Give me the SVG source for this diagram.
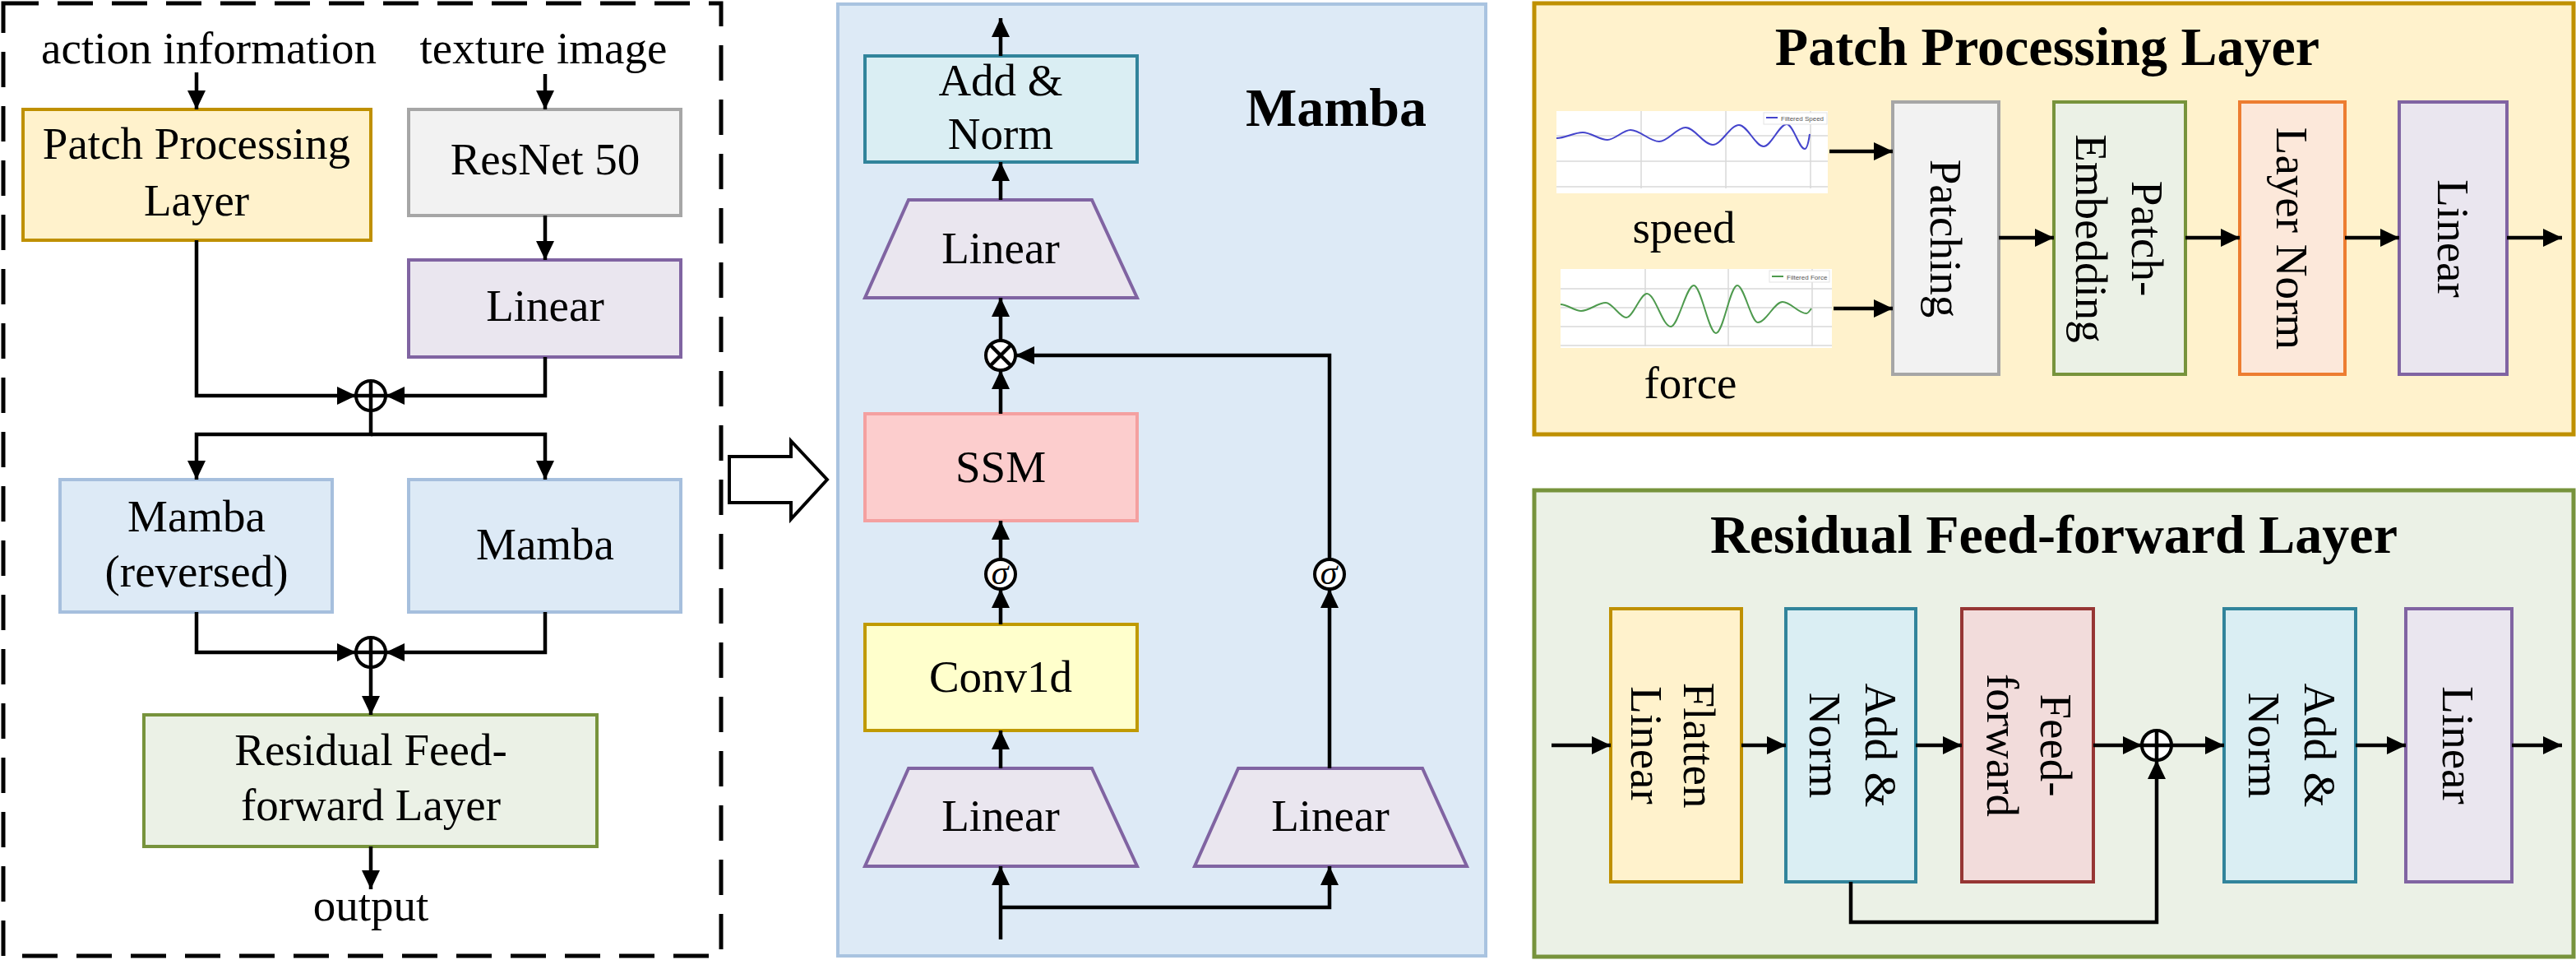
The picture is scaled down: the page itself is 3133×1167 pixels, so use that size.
<svg xmlns="http://www.w3.org/2000/svg" width="3133" height="1167" viewBox="0 0 3133 1167">
<defs>
<marker id="ah" markerUnits="userSpaceOnUse" markerWidth="24" markerHeight="22" refX="23" refY="11" orient="auto">
<path d="M0,0 L23,11 L0,22 z" fill="#000"/>
</marker>
<style>
text{font-family:"Liberation Serif","Times New Roman",serif;fill:#000}
.t{font-size:55px;text-anchor:middle}
.tb{font-size:66px;font-weight:bold;text-anchor:middle}
.sig{font-size:42px;font-style:italic;text-anchor:middle}
.lg{font-family:"Liberation Sans",Arial,sans-serif;font-size:8px;fill:#555}
.c{fill:none;stroke:#000;stroke-width:4.5}
.a{fill:none;stroke:#000;stroke-width:4.5;marker-end:url(#ah)}
.op{fill:#fff;stroke:#000;stroke-width:4}
.yel{fill:#FFF2CC;stroke:#BF9000;stroke-width:4}
.gry{fill:#F2F2F2;stroke:#A6A6A6;stroke-width:4}
.pur{fill:#EAE6EF;stroke:#8064A2;stroke-width:4}
.blu{fill:#DDEAF6;stroke:#A6BFDD;stroke-width:4}
.grn{fill:#EBF1E6;stroke:#77933C;stroke-width:4}
.cyn{fill:#DAEEF3;stroke:#31849B;stroke-width:4}
.ssm{fill:#FCCDCD;stroke:#F4A0A0;stroke-width:4}
.cnv{fill:#FFFFCC;stroke:#C09A00;stroke-width:4}
.org{fill:#FCE8DA;stroke:#ED7D31;stroke-width:4}
.red{fill:#F2DCDB;stroke:#963634;stroke-width:4}
.grid{stroke:#D9D9D9;stroke-width:1.5}
</style>
</defs>
<rect width="3133" height="1167" fill="#fff"/>

<!-- panels -->
<rect id="left-frame" x="4" y="4" width="873" height="1158" fill="none" stroke="#000" stroke-width="5" stroke-dasharray="43 23"/>
<rect id="mamba-panel" x="1019" y="5" width="788" height="1157" fill="#DDEAF6" stroke="#A9C3E0" stroke-width="4"/>
<rect id="ppl-panel" x="1866" y="4" width="1264" height="524" fill="#FFF2CC" stroke="#BF9000" stroke-width="5"/>
<rect id="rff-panel" x="1866" y="596" width="1264" height="567" fill="#EBF1E6" stroke="#77933C" stroke-width="5"/>

<!-- left panel nodes -->
<g id="in-action"><text class="t" x="254" y="77">action information</text></g>
<g id="in-texture"><text class="t" x="661" y="77">texture image</text></g>
<g id="patch-proc"><rect class="yel" x="28" y="133" width="423" height="159"/><text class="t" x="239" y="193">Patch Processing</text><text class="t" x="239" y="262">Layer</text></g>
<g id="resnet"><rect class="gry" x="497" y="133" width="331" height="129"/><text class="t" x="663" y="212">ResNet 50</text></g>
<g id="linear-l"><rect class="pur" x="497" y="316" width="331" height="118"/><text class="t" x="663" y="390">Linear</text></g>
<g id="plus1"><circle class="op" cx="451" cy="481" r="18"/><path class="c" d="M451,463 V499 M433,481 H469" stroke-width="3"/></g>
<g id="mamba-rev"><rect class="blu" x="73" y="583" width="331" height="161"/><text class="t" x="239" y="646">Mamba</text><text class="t" x="239" y="713">(reversed)</text></g>
<g id="mamba-fwd"><rect class="blu" x="497" y="583" width="331" height="161"/><text class="t" x="663" y="680">Mamba</text></g>
<g id="plus2"><circle class="op" cx="451" cy="793" r="18"/><path class="c" d="M451,775 V811 M433,793 H469" stroke-width="3"/></g>
<g id="rff-l"><rect class="grn" x="175" y="869" width="551" height="160"/><text class="t" x="451" y="930">Residual Feed-</text><text class="t" x="451" y="997">forward Layer</text></g>
<g id="out"><text class="t" x="451" y="1119">output</text></g>

<g id="big-arrow"><polygon points="887,555 962,555 962,536 1006,583 962,631 962,611 887,611" fill="#fff" stroke="#000" stroke-width="4"/></g>

<!-- mamba panel nodes -->
<g id="mamba-title"><text class="tb" x="1625" y="153">Mamba</text></g>
<g id="addnorm-m"><rect class="cyn" x="1052" y="68" width="331" height="129"/><text class="t" x="1217" y="116">Add &amp;</text><text class="t" x="1217" y="181">Norm</text></g>
<g id="linear-top"><polygon class="pur" points="1105,243 1328,243 1383,362 1052,362"/><text class="t" x="1217" y="320">Linear</text></g>
<g id="times"><circle class="op" cx="1217" cy="432" r="18"/><path class="c" d="M1204,419 L1230,445 M1230,419 L1204,445" stroke-width="3"/></g>
<g id="ssm"><rect class="ssm" x="1052" y="503" width="331" height="130"/><text class="t" x="1217" y="586">SSM</text></g>
<g id="sig1"><circle class="op" cx="1217" cy="698" r="18"/><text class="sig" x="1216" y="710">σ</text></g>
<g id="conv"><rect class="cnv" x="1052" y="759" width="331" height="129"/><text class="t" x="1217" y="841">Conv1d</text></g>
<g id="linear-bl"><polygon class="pur" points="1105,934 1328,934 1383,1053 1052,1053"/><text class="t" x="1217" y="1010">Linear</text></g>
<g id="linear-br"><polygon class="pur" points="1506,934 1730,934 1784,1053 1453,1053"/><text class="t" x="1618" y="1010">Linear</text></g>
<g id="sig2"><circle class="op" cx="1617" cy="698" r="18"/><text class="sig" x="1616" y="710">σ</text></g>

<!-- patch processing panel -->
<g id="ppl-title"><text class="tb" x="2490" y="79">Patch Processing Layer</text></g>
<g id="speed-chart">
<rect x="1893" y="135" width="330" height="100" fill="#fff"/>
<path class="grid" d="M1996,135 V229 M2099,135 V229 M2202,135 V229 M1893,165 H2223 M1893,196 H2223 M1893,227 H2223"/>
<path d="M1893,168 C1904,168 1914,161 1925,161 C1935,161 1945,170 1955,170 C1964,170 1974,158 1983,158 C1995,158 2006,172 2018,172 C2029,172 2039,155 2050,155 C2061,155 2072,176 2083,176 C2094,176 2104,152 2115,152 C2125,152 2135,178 2145,178 C2154,178 2164,151 2173,151 C2181,151 2188,181 2195,181 C2198,181 2200,170 2201,163" fill="none" stroke="#4444CC" stroke-width="2"/>
<rect x="2145" y="137" width="77" height="14" fill="#fff" stroke="#E3E3E3" stroke-width="1"/>
<path d="M2148,143 H2162" stroke="#4444CC" stroke-width="2"/>
<text class="lg" x="2166" y="147">Filtered Speed</text>
</g>
<g id="speed-label"><text class="t" x="2048" y="295">speed</text></g>
<g id="force-chart">
<rect x="1898" y="327" width="330" height="96" fill="#fff"/>
<path class="grid" d="M2001,327 V421 M2102,327 V421 M2204,327 V421 M1898,351 H2228 M1898,374 H2228 M1898,397 H2228 M1898,420 H2228"/>
<path d="M1898,370 C1906,370 1915,378 1923,378 C1933,378 1943,368 1953,368 C1961,368 1970,386 1978,386 C1986,386 1995,357 2003,357 C2013,357 2022,397 2032,397 C2041,397 2051,347 2060,347 C2069,347 2078,405 2087,405 C2096,405 2104,347 2113,347 C2121,347 2130,392 2138,392 C2148,392 2158,367 2168,367 C2178,367 2187,381 2197,381 C2199,381 2201,378 2203,375" fill="none" stroke="#4E9A4E" stroke-width="2"/>
<rect x="2152" y="329" width="73" height="14" fill="#fff" stroke="#E3E3E3" stroke-width="1"/>
<path d="M2155,336 H2169" stroke="#4E9A4E" stroke-width="2"/>
<text class="lg" x="2173" y="340">Filtered Force</text>
</g>
<g id="force-label"><text class="t" x="2056" y="484">force</text></g>
<g id="patching"><rect class="gry" x="2302" y="124" width="129" height="331"/><text class="t" transform="translate(2367,290) rotate(90)" x="0" y="19">Patching</text></g>
<g id="patch-emb"><rect class="grn" x="2498" y="124" width="160" height="331"/><text class="t" transform="translate(2578,290) rotate(90)"><tspan x="0" y="-15">Patch-</tspan><tspan x="0" y="53">Embedding</tspan></text></g>
<g id="layernorm"><rect class="org" x="2724" y="124" width="128" height="331"/><text class="t" transform="translate(2788,290) rotate(90)" x="0" y="19">Layer Norm</text></g>
<g id="linear-p"><rect class="pur" x="2918" y="124" width="131" height="331"/><text class="t" transform="translate(2984,290) rotate(90)" x="0" y="19">Linear</text></g>

<!-- residual panel -->
<g id="rff-title"><text class="tb" x="2498" y="672">Residual Feed-forward Layer</text></g>
<g id="flatten"><rect class="yel" x="1959" y="740" width="159" height="332"/><text class="t" transform="translate(2036,906) rotate(90)"><tspan x="0" y="-12">Flatten</tspan><tspan x="0" y="52">Linear</tspan></text></g>
<g id="addnorm1"><rect class="cyn" x="2172" y="740" width="158" height="332"/><text class="t" transform="translate(2253,906) rotate(90)"><tspan x="0" y="-16">Add &amp;</tspan><tspan x="0" y="52">Norm</tspan></text></g>
<g id="ffwd"><rect class="red" x="2386" y="740" width="160" height="332"/><text class="t" transform="translate(2468,906) rotate(90)"><tspan x="0" y="-14">Feed-</tspan><tspan x="0" y="51">forward</tspan></text></g>
<g id="plus3"><circle class="op" cx="2623" cy="906" r="18"/><path class="c" d="M2623,888 V924 M2605,906 H2641" stroke-width="3"/></g>
<g id="addnorm2"><rect class="cyn" x="2705" y="740" width="160" height="332"/><text class="t" transform="translate(2787,906) rotate(90)"><tspan x="0" y="-16">Add &amp;</tspan><tspan x="0" y="52">Norm</tspan></text></g>
<g id="linear-r"><rect class="pur" x="2926" y="740" width="129" height="332"/><text class="t" transform="translate(2990,906) rotate(90)" x="0" y="19">Linear</text></g>

<!-- connectors -->
<g id="connectors">
<path class="a" d="M239,88 V133"/>
<path class="a" d="M663,90 V133"/>
<path class="a" d="M663,262 V316"/>
<path class="a" d="M239,292 V481 H433"/>
<path class="a" d="M663,434 V481 H469"/>
<path class="a" d="M451,499 V528 H239 V583"/>
<path class="a" d="M451,528 H663 V583"/>
<path class="a" d="M239,744 V793 H433"/>
<path class="a" d="M663,744 V793 H469"/>
<path class="a" d="M451,811 V869"/>
<path class="a" d="M451,1029 V1081"/>

<path class="a" d="M1217,68 V22"/>
<path class="a" d="M1217,243 V197"/>
<path class="a" d="M1217,414 V362"/>
<path class="a" d="M1217,503 V450"/>
<path class="a" d="M1617,680 V432 H1235"/>
<path class="a" d="M1217,680 V633"/>
<path class="a" d="M1217,759 V716"/>
<path class="a" d="M1217,934 V888"/>
<path class="a" d="M1617,934 V716"/>
<path class="a" d="M1217,1142 V1053"/>
<path class="a" d="M1217,1103 H1617 V1053"/>

<path class="a" d="M2225,184 H2302"/>
<path class="a" d="M2230,375 H2302"/>
<path class="a" d="M2431,289 H2498"/>
<path class="a" d="M2658,289 H2724"/>
<path class="a" d="M2852,289 H2918"/>
<path class="a" d="M3049,289 H3116"/>

<path class="a" d="M1887,906 H1959"/>
<path class="a" d="M2118,906 H2172"/>
<path class="a" d="M2330,906 H2386"/>
<path class="a" d="M2546,906 H2605"/>
<path class="a" d="M2641,906 H2705"/>
<path class="a" d="M2865,906 H2926"/>
<path class="a" d="M3055,906 H3116"/>
<path class="a" d="M2251,1072 V1121 H2623 V924"/>
</g>
</svg>
